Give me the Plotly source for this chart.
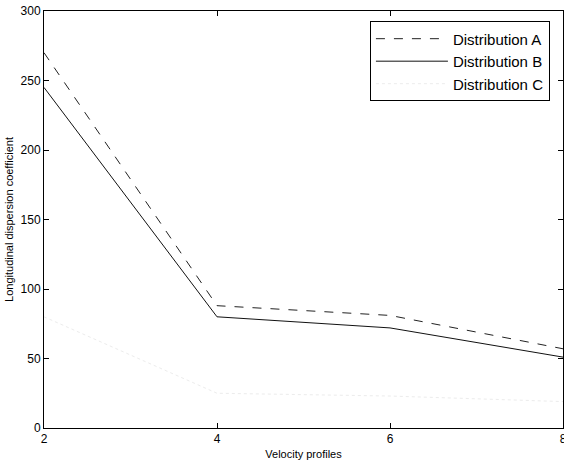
import plotly.graph_objects as go

x_vals = [2, 4, 6, 8]
dist_a = [270, 88, 81, 57]
dist_b = [245, 80, 72, 51]
dist_c = [80, 25, 23, 19]
x_ticks = [2, 4, 6, 8]
y_ticks = [0, 50, 100, 150, 200, 250, 300]

fig = go.Figure()
fig.add_trace(go.Scatter(x=x_vals, y=dist_a, mode="lines", name="Distribution A",
                         line=dict(color="#222222", width=1, dash="dash")))
fig.add_trace(go.Scatter(x=x_vals, y=dist_b, mode="lines", name="Distribution B",
                         line=dict(color="#111111", width=1)))
fig.add_trace(go.Scatter(x=x_vals, y=dist_c, mode="lines", name="Distribution C",
                         line=dict(color="#ececec", width=1, dash="dot")))

axis_common = dict(showgrid=False, zeroline=False, showline=True, linecolor="black",
                   linewidth=1, mirror="ticks", ticks="inside", ticklen=5,
                   tickcolor="black", ticklabeloverflow="allow", automargin=False,
                   tickfont=dict(family="Liberation Sans, Arial", size=12, color="black"))

fig.update_layout(
    width=564, height=462,
    margin=dict(l=44, r=1, t=11, b=34),
    paper_bgcolor="white", plot_bgcolor="white",
    font=dict(family="Liberation Sans, Arial", color="black"),
    showlegend=True,
    legend=dict(x=0.628, y=0.975, xanchor="left", yanchor="top",
                bordercolor="black", borderwidth=1, bgcolor="white",
                font=dict(size=15, family="Liberation Sans, Arial"),
                itemwidth=72, tracegroupgap=0),
    xaxis=dict(range=[2, 8], tickvals=x_ticks,
               title=dict(text="Velocity profiles", font=dict(size=11), standoff=4),
               **axis_common),
    yaxis=dict(range=[0, 300], tickvals=y_ticks,
               title=dict(text="Longitudinal dispersion coefficient", font=dict(size=11), standoff=4),
               **axis_common),
)

fig.write_html("out.html")
